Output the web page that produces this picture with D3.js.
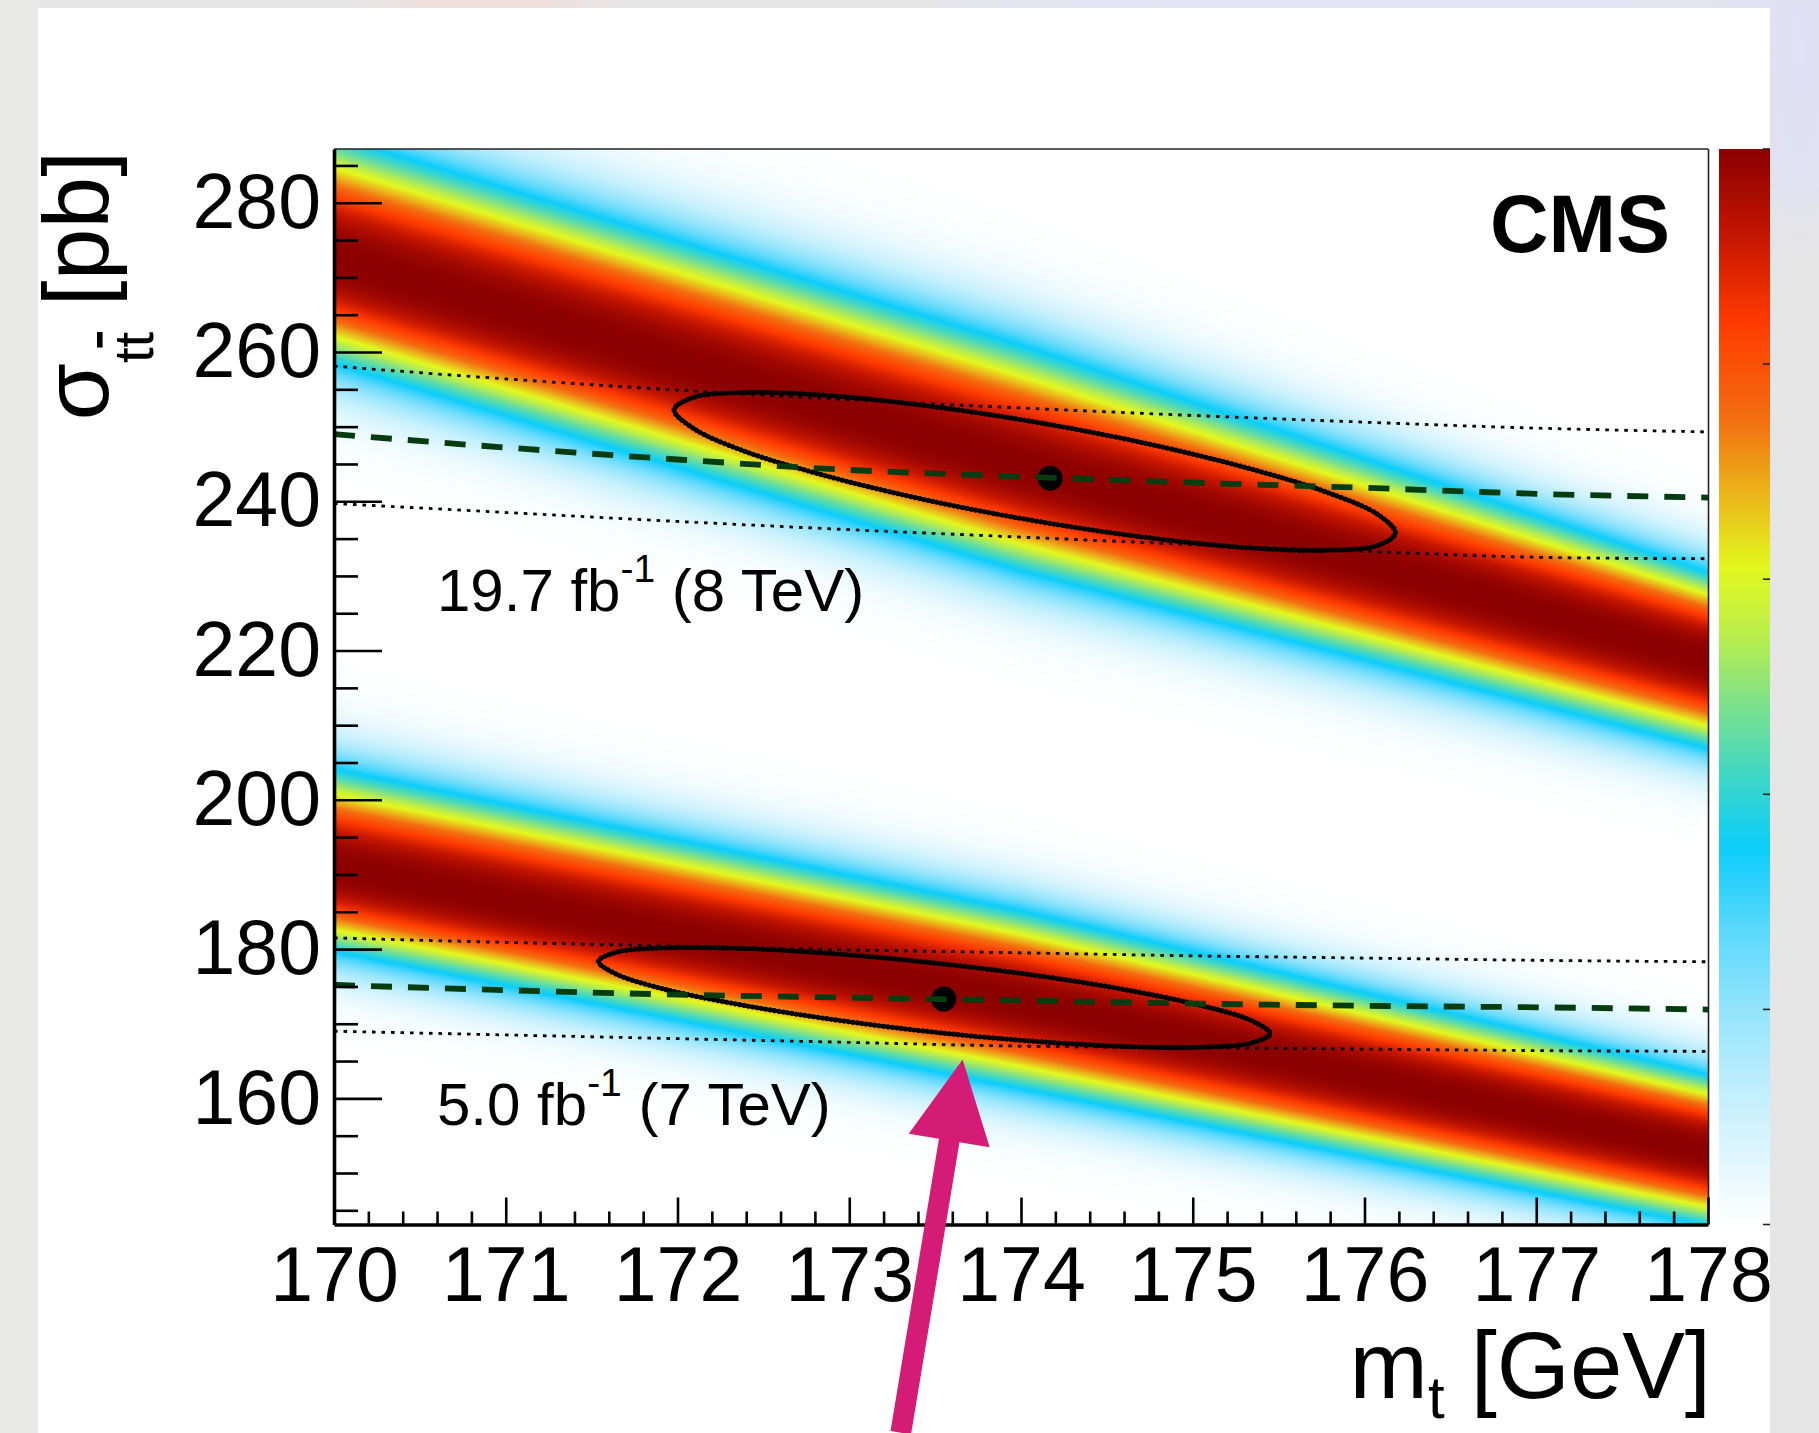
<!DOCTYPE html>
<html>
<head>
<meta charset="utf-8">
<script src="https://cdn.jsdelivr.net/npm/d3@7"></script>
<style>
  html, body { margin: 0; padding: 0; background: #e6e6e6; }
  svg { display: block; }
  text { font-family: "Liberation Sans", Arial, Helvetica, sans-serif; fill: #000; }
</style>
</head>
<body>
<svg id="fig" width="1819" height="1433"></svg>
<script>
// ---- axes ----
const massDomain = [170, 178];
const xsecDomain = [143.1, 287.2];
const massTicks = [170, 171, 172, 173, 174, 175, 176, 177, 178];
const xsecTicks = [160, 180, 200, 220, 240, 260, 280];
const massMinorStep = 0.2;
const xsecMinorStep = 5;

// ---- likelihood bands (theory): centre and upper / lower widths in pb ----
const bandMass = [170, 174, 178];
const band8Centre = [272.6, 244.7, 218.7];
const band8WidthUp = [16.0, 15.9, 11.6];
const band8WidthDown = [13.9, 13.8, 11.6];
const band7Centre = [190.9, 172.9, 152.8];
const band7WidthUp = [13.0, 12.0, 10.2];
const band7WidthDown = [11.0, 11.4, 9.7];

// ---- measured cross section vs assumed mass (dashed) and ±1 sigma (dotted) ----
const lineMass = [170, 171, 172, 173, 174, 175, 176, 177, 178];
const meas8 = [249.0, 247.2, 245.6, 244.2, 243.3, 242.5, 241.8, 241.0, 240.5];
const meas8Up = [258.1, 256.4, 254.9, 253.6, 252.5, 251.5, 250.6, 249.8, 249.3];
const meas8Down = [239.7, 238.5, 237.3, 236.2, 235.2, 234.2, 233.3, 232.5, 232.3];
const meas7 = [175.2, 174.5, 173.9, 173.5, 173.1, 172.7, 172.4, 172.2, 171.9];
const meas7Up = [181.5, 180.9, 180.4, 179.9, 179.5, 179.1, 178.8, 178.5, 178.3];
const meas7Down = [169.0, 168.5, 168.0, 167.5, 167.0, 166.8, 166.6, 166.4, 166.3];

// ---- 1 sigma contours of the joint fit ----
const contour8Mass = [176.18, 176.08, 175.78, 175.31, 174.73, 174.08, 173.43, 172.85, 172.38, 172.09,
                      171.98, 172.09, 172.38, 172.85, 173.43, 174.08, 174.73, 175.31, 175.78, 176.08];
const contour8Xsec = [235.74, 234.10, 233.43, 233.79, 235.15, 237.38, 240.26, 243.50, 246.79, 249.81,
                      252.26, 253.90, 254.57, 254.21, 252.85, 250.62, 247.74, 244.50, 241.21, 238.19];
const contour7Mass = [175.45, 175.35, 175.07, 174.64, 174.10, 173.49, 172.89, 172.35, 171.91, 171.64,
                      171.54, 171.64, 171.91, 172.35, 172.89, 173.49, 174.10, 174.64, 175.07, 175.35];
const contour7Xsec = [168.67, 167.47, 166.87, 166.92, 167.61, 168.88, 170.61, 172.61, 174.71, 176.69,
                      178.35, 179.55, 180.15, 180.10, 179.41, 178.14, 176.42, 174.41, 172.31, 170.33];

// ---- best-fit points ----
const bestMass = [174.17, 173.55];
const bestXsec = [243.1, 173.3];

// ---- colour palette (z from 0 to 1) ----
const paletteLevels = [0, 0.05, 0.12, 0.20, 0.27, 0.35, 0.41, 0.48, 0.55, 0.61, 0.68, 0.75, 0.84, 0.92, 1];
const paletteColors = ["#ffffff", "#e6f8fe", "#c3effd", "#93e4fc", "#5ed9fc", "#0ccdfb", "#38d6cc",
                       "#7ae08e", "#bcee4a", "#e2f81e", "#ebb51a", "#f36d10", "#ff3a00", "#c41500", "#8b0000"];
const paletteTicks = [0, 0.2, 0.4, 0.6, 0.8, 1];

// ---- annotations ----
const labels = [
  { lumi: "19.7", energy: "8", baseline: 611 },
  { lumi: "5.0", energy: "7", baseline: 1125 }
];
const arrowTail = [173.30, 115.2];
const arrowTip = [173.66, 165.2];

// ================= drawing =================
const W = 1819, H = 1433;
const P = { left: 334, right: 1708, top: 149, bottom: 1224.5 };
const svg = d3.select("#fig");

const x = d3.scaleLinear().domain(massDomain).range([P.left, P.right]);
const y = d3.scaleLinear().domain(xsecDomain).range([P.bottom, P.top]);

// slide background and white panel
const defs = svg.append("defs");
defs.append("filter").attr("id", "soft").attr("x", "-50%").attr("y", "-50%").attr("width", "200%").attr("height", "200%")
  .append("feGaussianBlur").attr("stdDeviation", 30);
svg.append("rect").attr("width", W).attr("height", H).attr("fill", "#e5e5e5");
svg.append("rect").attr("x", 0).attr("y", 0).attr("width", 40).attr("height", H).attr("fill", "#e9eae7");
const blobs = svg.append("g").attr("filter", "url(#soft)");
blobs.append("ellipse").attr("cx", 490).attr("cy", 0).attr("rx", 110).attr("ry", 30).attr("fill", "#f6dada");
blobs.append("ellipse").attr("cx", 1350).attr("cy", 0).attr("rx", 420).attr("ry", 30).attr("fill", "#e2e2fa");
blobs.append("ellipse").attr("cx", 1800).attr("cy", 60).attr("rx", 60).attr("ry", 160).attr("fill", "#e0e0f6");
svg.append("rect").attr("x", 38).attr("y", 8).attr("width", 1770 - 38).attr("height", H - 8).attr("fill", "#ffffff");

// heat map of the two bands
const palette = d3.scaleLinear().domain(paletteLevels).range(paletteColors)
  .interpolate(d3.interpolateRgb).clamp(true);
const LUT = d3.range(1025).map(i => d3.rgb(palette(i / 1024)));
const bands = [
  { c: band8Centre, u: band8WidthUp, d: band8WidthDown },
  { c: band7Centre, u: band7WidthUp, d: band7WidthDown }
].map(b => ({
  c: d3.scaleLinear().domain(bandMass).range(b.c),
  u: d3.scaleLinear().domain(bandMass).range(b.u),
  d: d3.scaleLinear().domain(bandMass).range(b.d)
}));
const cw = Math.round(P.right - P.left), ch = Math.round(P.bottom - P.top);
const canvas = document.createElement("canvas");
canvas.width = cw; canvas.height = ch;
const ctx = canvas.getContext("2d");
const img = ctx.createImageData(cw, ch);
for (let i = 0; i < cw; i++) {
  const m = x.invert(P.left + i + 0.5);
  const bp = bands.map(b => ({ c: b.c(m), u: b.u(m), d: b.d(m) }));
  for (let j = 0; j < ch; j++) {
    const s = y.invert(P.top + j + 0.5);
    let v = 0;
    for (const b of bp) {
      const dd = s - b.c;
      const t = Math.abs(dd) / (dd > 0 ? b.u : b.d);
      const vv = Math.exp(-Math.pow(t, 2.5));
      if (vv > v) v = vv;
    }
    const c = LUT[Math.round(v * 1024)];
    const k = (j * cw + i) * 4;
    img.data[k] = c.r; img.data[k + 1] = c.g; img.data[k + 2] = c.b; img.data[k + 3] = 255;
  }
}
ctx.putImageData(img, 0, 0);
svg.append("image").attr("x", P.left).attr("y", P.top).attr("width", cw).attr("height", ch)
  .attr("preserveAspectRatio", "none").attr("href", canvas.toDataURL());

// palette bar
const grad = defs.append("linearGradient").attr("id", "pal").attr("x1", 0).attr("y1", 1).attr("x2", 0).attr("y2", 0);
paletteLevels.forEach((l, i) => grad.append("stop").attr("offset", l).attr("stop-color", paletteColors[i]));
const z = d3.scaleLinear().domain([0, 1]).range([P.bottom, P.top]);
svg.append("rect").attr("x", 1719).attr("y", P.top).attr("width", 1770 - 1719).attr("height", P.bottom - P.top)
  .attr("fill", "url(#pal)");
svg.append("g").selectAll("line").data(paletteTicks).join("line")
  .attr("x1", 1763).attr("x2", 1770).attr("y1", d => z(d)).attr("y2", d => z(d))
  .attr("stroke", "#222").attr("stroke-width", 1.6);

// measurement lines
const lineGen = d3.line().x(d => x(d[0])).y(d => y(d[1])).curve(d3.curveMonotoneX);
const plot = svg.append("g");
[meas8Up, meas8Down, meas7Up, meas7Down].forEach(arr => {
  plot.append("path").attr("d", lineGen(lineMass.map((m, i) => [m, arr[i]])))
    .attr("fill", "none").attr("stroke", "#000").attr("stroke-width", 2.8).attr("stroke-dasharray", "3.6,5.9");
});

// contours: a line of closely packed markers
const contourGen = d3.line().x(d => x(d[0])).y(d => y(d[1])).curve(d3.curveCatmullRomClosed);
[[contour8Mass, contour8Xsec], [contour7Mass, contour7Xsec]].forEach(([ms, ss]) => {
  const pts = ms.map((m, i) => [m, ss[i]]);
  plot.append("path").attr("d", contourGen(pts)).attr("fill", "none")
    .attr("stroke", "#000").attr("stroke-width", 3.4).attr("stroke-linejoin", "round");
  plot.append("path").attr("d", contourGen(pts)).attr("fill", "none")
    .attr("stroke", "#000").attr("stroke-width", 5.2).attr("stroke-linecap", "round")
    .attr("stroke-dasharray", "0.01,4.4");
});

// best-fit points
plot.selectAll("circle.best").data(bestMass).join("circle").attr("class", "best")
  .attr("cx", d => x(d)).attr("cy", (d, i) => y(bestXsec[i])).attr("r", 12.5).attr("fill", "#000");

// central measurement curves
[meas8, meas7].forEach(arr => {
  plot.append("path").attr("d", lineGen(lineMass.map((m, i) => [m, arr[i]])))
    .attr("fill", "none").attr("stroke", "#073b10").attr("stroke-width", 5.8).attr("stroke-dasharray", "21,16");
});

// frame
svg.append("line").attr("x1", P.left).attr("x2", P.right).attr("y1", P.top).attr("y2", P.top)
  .attr("stroke", "#222").attr("stroke-width", 1.6);
svg.append("line").attr("x1", P.right + 0.5).attr("x2", P.right + 0.5).attr("y1", P.top).attr("y2", P.bottom)
  .attr("stroke", "#222").attr("stroke-width", 1.6);

// axes
const TICKFONT = 77;
const massMinor = d3.range(massDomain[0], massDomain[1] + 1e-6, massMinorStep)
  .filter(v => Math.abs(v - Math.round(v)) > 1e-6);
const xsecMinor = d3.range(145, xsecDomain[1], xsecMinorStep).filter(v => v % 20 !== 0);

const gxMinor = svg.append("g").attr("transform", `translate(0,${P.bottom})`)
  .call(d3.axisBottom(x).tickValues(massMinor).tickSize(-13).tickSizeOuter(0).tickFormat(""));
gxMinor.select(".domain").remove();
const gx = svg.append("g").attr("transform", `translate(0,${P.bottom})`)
  .call(d3.axisBottom(x).tickValues(massTicks).tickSize(-27).tickSizeOuter(0).tickPadding(22).tickFormat(d3.format("d")));
const gyMinor = svg.append("g").attr("transform", `translate(${P.left},0)`)
  .call(d3.axisLeft(y).tickValues(xsecMinor).tickSize(-24).tickSizeOuter(0).tickFormat(""));
gyMinor.select(".domain").remove();
const gy = svg.append("g").attr("transform", `translate(${P.left},0)`)
  .call(d3.axisLeft(y).tickValues(xsecTicks).tickSize(-48).tickSizeOuter(0).tickPadding(13).tickFormat(d3.format("d")));

[gx, gy, gxMinor, gyMinor].forEach(g => {
  g.selectAll(".tick line").attr("stroke", "#000").attr("stroke-width", 2.6);
  g.selectAll("text").attr("font-size", TICKFONT).attr("fill", "#000")
    .attr("font-family", "'Liberation Sans', Arial, Helvetica, sans-serif");
});
gx.select(".domain").attr("stroke", "#000").attr("stroke-width", 3.6);
gy.select(".domain").attr("stroke", "#000").attr("stroke-width", 3.6);

// axis titles
const xt = svg.append("text").attr("x", 1711).attr("y", 1398).attr("text-anchor", "end").attr("font-size", 94);
xt.append("tspan").text("m");
xt.append("tspan").attr("font-size", 60).attr("dy", 20).text("t");
xt.append("tspan").attr("font-size", 94).attr("dy", -20).text(" [GeV]");

const yt = svg.append("text").attr("transform", "translate(108,151) rotate(-90)")
  .attr("text-anchor", "end").attr("font-size", 93);
yt.append("tspan").text("σ");
yt.append("tspan").attr("font-size", 56).attr("dy", 45).text("t");
yt.append("tspan").attr("font-size", 56).style("text-decoration", "overline").text("t");
yt.append("tspan").attr("font-size", 93).attr("dy", -45).text(" [pb]");

// experiment tag
svg.append("text").attr("x", 1670).attr("y", 252).attr("text-anchor", "end")
  .attr("font-size", 81).attr("font-weight", "bold").text("CMS");

// dataset labels
labels.forEach(l => {
  const t = svg.append("text").attr("x", 437).attr("y", l.baseline).attr("font-size", 60);
  t.append("tspan").text(`${l.lumi} fb`);
  t.append("tspan").attr("font-size", 39).attr("dy", -29).text("-1");
  t.append("tspan").attr("font-size", 60).attr("dy", 29).text(` (${l.energy} TeV)`);
});

// arrow
(function () {
  const S = [x(arrowTail[0]), y(arrowTail[1])];
  const T = [x(arrowTip[0]), y(arrowTip[1])];
  const L = Math.hypot(T[0] - S[0], T[1] - S[1]);
  const u = [(T[0] - S[0]) / L, (T[1] - S[1]) / L];
  const n = [-u[1], u[0]];
  const headLen = 82, headHalf = 41, shaftHalf = 10.4;
  const B = [T[0] - u[0] * headLen, T[1] - u[1] * headLen];
  const pt = (p, k) => [p[0] + n[0] * k, p[1] + n[1] * k];
  const poly = [pt(S, shaftHalf), pt(B, shaftHalf), pt(B, headHalf), T, pt(B, -headHalf), pt(B, -shaftHalf), pt(S, -shaftHalf)];
  svg.append("path").attr("d", d3.line()(poly) + "Z").attr("fill", "#d41b76");
})();
</script>
</body>
</html>
